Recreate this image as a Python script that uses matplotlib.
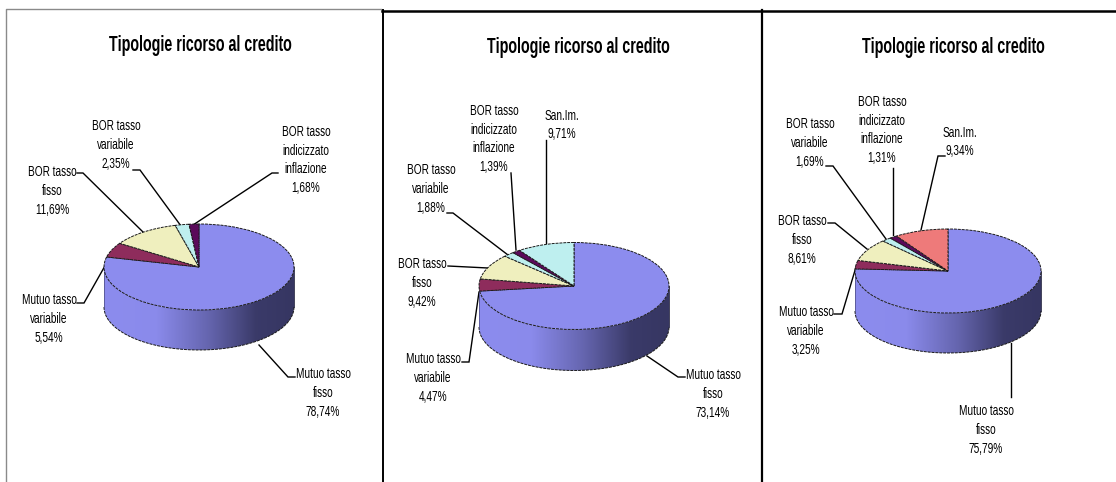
import os
import tempfile
import numpy as np
import matplotlib
matplotlib.use("Agg")
import matplotlib.pyplot as plt
from matplotlib.patches import Polygon
from matplotlib import font_manager as fm

W, H = 1116, 482


def squeezed_family(factor=0.66):
    """Make a horizontally condensed copy of Liberation Sans, as the reference text is."""
    family = "Liberation Sans Squeezed"
    try:
        from fontTools.ttLib import TTFont
        folder = tempfile.mkdtemp()
        for weight in ("normal", "bold"):
            path = fm.findfont(fm.FontProperties(family="Liberation Sans", weight=weight))
            font = TTFont(path)
            glyf = font["glyf"]
            for name in font.getGlyphOrder():
                g = glyf[name]
                if g.isComposite():
                    for c in g.components:
                        c.x = round(c.x * factor)
                elif g.numberOfContours > 0:
                    g.coordinates.scale((factor, 1))
                    g.coordinates.toInt()
                if hasattr(g, "program"):
                    g.program.fromBytecode(b"")
                g.recalcBounds(glyf)
            hmtx = font["hmtx"]
            for name, (adv, lsb) in list(hmtx.metrics.items()):
                hmtx.metrics[name] = (round(adv * factor), round(lsb * factor))
            for tag in ("fpgm", "prep", "cvt ", "hdmx", "VDMX", "LTSH", "kern", "GPOS", "GSUB", "GDEF"):
                if tag in font:
                    del font[tag]
            style = "Bold" if weight == "bold" else "Regular"
            for rec in list(font["name"].names):
                if rec.nameID in (1, 16):
                    rec.string = family
                elif rec.nameID == 4:
                    rec.string = f"{family} {style}"
                elif rec.nameID == 6:
                    rec.string = f"LiberationSansSqueezed-{style}"
            out = os.path.join(folder, f"squeezed-{style}.ttf")
            font.save(out)
            fm.fontManager.addfont(out)
        return [family, "Liberation Sans", "DejaVu Sans"]
    except Exception:
        return ["Liberation Sans", "DejaVu Sans"]


FAMILY = squeezed_family()

title = "Tipologie ricorso al credito"
labels_a = ["Mutuo tasso\nfisso", "Mutuo tasso\nvariabile", "BOR tasso\nfisso",
            "BOR tasso\nvariabile", "BOR tasso\nindicizzato\ninflazione"]
labels_b = labels_a + ["San.Im."]
values_1 = [78.74, 5.54, 11.69, 2.35, 1.68]
values_2 = [73.14, 4.47, 9.42, 1.88, 1.39, 9.71]
values_3 = [75.79, 3.25, 8.61, 1.69, 1.31, 9.34]
colors_1 = ["#8C8CEE", "#8E2C5C", "#EFEFBE", "#BEEFEF", "#5A0A5A"]
colors_2 = colors_1 + ["#BEEFEF"]
colors_3 = colors_1 + ["#EE7A7A"]

# layout, in pixels of the figure
panels = [
    dict(values=values_1, labels=labels_a, colors=colors_1, cx=199, cy=267, rx=95, ry=43, depth=40,
         title=(200.5, 45),
         pos=[(323, 393), (49, 319), (52, 191), (116, 145), (306, 160)],
         lead=[[(295, 377), (288, 377), (259, 345)],
               [(77, 303), (84, 303), (110, 257)],
               [(77, 173), (83, 173), (143, 232)],
               [(133, 170), (140, 170), (181, 226)],
               [(278, 173), (272, 173), (193, 225)]]),
    dict(values=values_2, labels=labels_b, colors=colors_2, cx=574, cy=286, rx=95, ry=43.5, depth=41,
         title=(578.5, 47),
         pos=[(713, 394), (433, 378), (422, 283), (431, 189), (494, 139), (562, 125)],
         lead=[[(685, 377), (678, 377), (647, 356)],
               [(462, 362), (469, 362), (479, 292)],
               [(448, 266), (488, 268)],
               [(447, 213), (453, 213), (508, 255)],
               [(511, 173), (516, 250)],
               [(546, 140), (546, 243)]]),
    dict(values=values_3, labels=labels_b, colors=colors_3, cx=948, cy=271, rx=93, ry=42, depth=40,
         title=(953.5, 47),
         pos=[(986, 430), (806, 331), (802, 240), (810, 143), (882, 130), (960, 142)],
         lead=[[(1011, 343), (1011, 397)],
               [(834, 314), (842, 314), (856, 267)],
               [(828, 223), (835, 223), (867, 249)],
               [(826, 166), (833, 166), (886, 239)],
               [(893, 168), (893, 235)],
               [(945, 156), (938, 156), (921, 230)]]),
]

fig = plt.figure(figsize=(W / 100, H / 100), dpi=100, facecolor="white")
bg = fig.add_axes([0, 0, 1, 1])
bg.set_xlim(0, W)
bg.set_ylim(H, 0)
bg.axis("off")

# panel frames
bg.plot([6, 6, 381], [482, 8.5, 8.5], color="#8a8a8a", lw=1.0)
bg.plot([382.5, 382.5], [482, 10], color="black", lw=1.4)
bg.plot([382, 1116], [10.5, 10.5], color="black", lw=1.8)
bg.plot([761.5, 761.5], [482, 10], color="black", lw=1.6)

grad_x = np.linspace(-1, 1, 256)
grad_stops = ([-1, -0.45, 0.1, 0.6, 1], [0, 0.02, 0.45, 0.95, 1])
light = np.array([0x8C, 0x8C, 0xEE]) / 255
dark = np.array([0x36, 0x36, 0x62]) / 255

for p in panels:
    d = p["depth"] / p["ry"]
    left = (p["cx"] - p["rx"]) / W
    bottom = 1 - (p["cy"] + p["ry"] + p["depth"]) / H
    ax = fig.add_axes([left, bottom, 2 * p["rx"] / W, (2 * p["ry"] + p["depth"]) / H])
    ax.patch.set_alpha(0)
    wedges, _ = ax.pie(p["values"], colors=p["colors"], startangle=90, counterclock=False,
                       radius=1, wedgeprops=dict(edgecolor="#1a1a1a", linewidth=0.7,
                                                 linestyle=(0, (3, 1))))
    for w in wedges:
        w.set_zorder(3)
        w.set_clip_on(False)
    t = np.linspace(np.pi, 2 * np.pi, 200)
    outline = np.vstack([np.column_stack([np.cos(t), np.sin(t) - d]),
                         np.column_stack([np.cos(t[::-1]), np.sin(t[::-1])])])
    f = np.interp(grad_x, *grad_stops)
    img = (light[None, :] * (1 - f)[:, None] + dark[None, :] * f[:, None])[None, :, :]
    im = ax.imshow(img, extent=(-1, 1, -1 - d, 1), aspect="auto", zorder=1, interpolation="bilinear")
    clip = Polygon(outline, closed=True, transform=ax.transData, fc="none", ec="none")
    ax.add_patch(clip)
    im.set_clip_path(clip)
    ax.plot(np.cos(t), np.sin(t) - d, color="#1a1a1a", lw=0.7, ls=(0, (3, 1)), zorder=2, clip_on=False)
    ax.plot([-1, -1], [0, -d], color="#55558f", lw=0.6, zorder=2, clip_on=False)
    ax.plot([1, 1], [0, -d], color="#22223f", lw=0.6, zorder=2, clip_on=False)
    ax.set_aspect("auto")
    ax.set_xlim(-1, 1)
    ax.set_ylim(-1 - d, 1)
    ax.axis("off")

    bg.text(p["title"][0], p["title"][1], title, ha="center", va="center",
            family=FAMILY, fontsize=15.6, fontweight="bold", color="black")
    for lab, val, pos, lead in zip(p["labels"], p["values"], p["pos"], p["lead"]):
        txt = lab + "\n" + f"{val:.2f}".replace(".", ",") + "%"
        bg.text(pos[0], pos[1], txt, ha="center", va="center", family=FAMILY,
                fontsize=11, linespacing=1.45, color="black")
        xs, ys = zip(*lead)
        bg.plot(xs, ys, color="black", lw=1.0, solid_joinstyle="miter")

fig.savefig("out.png", dpi=100)
